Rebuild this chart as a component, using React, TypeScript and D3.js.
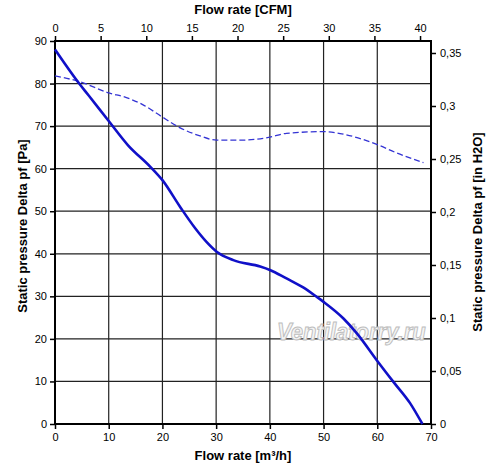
import { useEffect, useRef } from "react"
import * as d3 from "d3"

// flow rate [m³/h] / static pressure [Pa]
const solidFlow = [0, 4.5, 6.2, 10, 13.6, 17.7, 20, 23.3, 26.1, 28.2, 30.1, 33.2, 38.2, 40, 43.1, 46.2, 48.7, 50, 53.7, 56.2, 59.9, 63, 66.1, 68.4]
const solidPressure = [88, 80, 77.3, 71.2, 65.5, 60.5, 57.3, 51, 46, 42.8, 40.5, 38.5, 37, 36.2, 34.2, 32.1, 29.9, 28.7, 24.8, 21.3, 15, 9.9, 4.9, 0]

const dashedFlow = [0, 4.7, 10, 13.3, 16.4, 19.9, 23.3, 27, 30.1, 34.4, 40, 43.1, 50, 53.7, 59.9, 63.6, 68.6]
const dashedPressure = [81.8, 80.4, 77.8, 76.7, 75, 72.2, 69.6, 67.7, 66.7, 66.7, 67.4, 68.3, 68.7, 68.1, 65.7, 63.7, 61.4]

const flowTicks = [0, 10, 20, 30, 40, 50, 60, 70]
const cfmTicks = [0, 5, 10, 15, 20, 25, 30, 35, 40]
const paTicks = [0, 10, 20, 30, 40, 50, 60, 70, 80, 90]
const inH2OTicks = [0, 0.05, 0.1, 0.15, 0.2, 0.25, 0.3, 0.35]

const M3H_PER_CFM = 1.699
const INH2O_PER_PA = 0.0040146

export default function App() {
  const svgRef = useRef<SVGSVGElement>(null)

  useEffect(() => {
    if (!svgRef.current) return
    const svg = d3.select(svgRef.current)
    svg.selectAll("*").remove()

    const left = 55
    const right = 431
    const top = 41
    const bottom = 424
    const font = "'Liberation Sans', Arial, sans-serif"

    const x = d3.scaleLinear().domain([0, 70]).range([left, right])
    const xCfm = d3.scaleLinear().domain([0, 70 / M3H_PER_CFM]).range([left, right])
    const y = d3.scaleLinear().domain([0, 90]).range([bottom, top])
    const yIn = d3.scaleLinear().domain([0, 90 * INH2O_PER_PA]).range([bottom, top])

    svg.append("rect").attr("width", 500).attr("height", 470).attr("fill", "white")

    // grid
    svg.selectAll(".vgrid")
      .data(flowTicks.slice(1, -1))
      .enter()
      .append("line")
      .attr("x1", (d) => x(d))
      .attr("x2", (d) => x(d))
      .attr("y1", top)
      .attr("y2", bottom)
      .attr("stroke", "#222")
      .attr("stroke-width", 1.2)

    svg.selectAll(".hgrid")
      .data(paTicks.slice(1, -1))
      .enter()
      .append("line")
      .attr("x1", left)
      .attr("x2", right)
      .attr("y1", (d) => y(d))
      .attr("y2", (d) => y(d))
      .attr("stroke", "#222")
      .attr("stroke-width", 1.2)

    const styleAxis = (g: d3.Selection<SVGGElement, unknown, null, undefined>) => {
      g.select(".domain").remove()
      g.selectAll("line").attr("stroke", "#000").attr("stroke-width", 1.5)
      g.selectAll("text")
        .style("font-family", font)
        .style("font-size", "11px")
        .style("fill", "#000")
    }

    const fmt = (d: number) => String(+d.toFixed(2)).replace(".", ",")

    svg.append("g")
      .attr("transform", `translate(0,${bottom})`)
      .call(d3.axisBottom(x).tickValues(flowTicks).tickSize(5).tickPadding(4).tickFormat((d) => String(d)))
      .call(styleAxis)

    svg.append("g")
      .attr("transform", `translate(0,${top})`)
      .call(d3.axisTop(xCfm).tickValues(cfmTicks).tickSize(5).tickPadding(4).tickFormat((d) => String(d)))
      .call(styleAxis)

    svg.append("g")
      .attr("transform", `translate(${left},0)`)
      .call(d3.axisLeft(y).tickValues(paTicks).tickSize(5).tickPadding(3).tickFormat((d) => String(d)))
      .call(styleAxis)

    svg.append("g")
      .attr("transform", `translate(${right},0)`)
      .call(d3.axisRight(yIn).tickValues(inH2OTicks).tickSize(5).tickPadding(4).tickFormat((d) => fmt(d as number)))
      .call(styleAxis)

    // plot frame
    svg.append("rect")
      .attr("x", left)
      .attr("y", top)
      .attr("width", right - left)
      .attr("height", bottom - top)
      .attr("fill", "none")
      .attr("stroke", "#000")
      .attr("stroke-width", 2)

    // watermark
    svg.append("text")
      .attr("transform", "translate(277,340) scale(1,1.12)")
      .style("font-family", font)
      .style("font-style", "italic")
      .style("font-weight", "bold")
      .style("font-size", "22px")
      .style("fill", "#f4f4f4")
      .style("stroke", "#bdbdbd")
      .style("stroke-width", 0.9)
      .text("Ventilatorry.ru")

    const dashedData = dashedFlow.map((q, i) => [q, dashedPressure[i]] as [number, number])
    const solidData = solidFlow.map((q, i) => [q, solidPressure[i]] as [number, number])

    const line = d3
      .line<[number, number]>()
      .x((d) => x(d[0]))
      .y((d) => y(d[1]))
      .curve(d3.curveMonotoneX)

    svg.append("path")
      .datum(dashedData)
      .attr("fill", "none")
      .attr("stroke", "#3434d4")
      .attr("stroke-width", 1.3)
      .attr("stroke-dasharray", "6,3")
      .attr("d", line)

    svg.append("path")
      .datum(solidData)
      .attr("fill", "none")
      .attr("stroke", "#1010c8")
      .attr("stroke-width", 2.6)
      .attr("stroke-linejoin", "round")
      .attr("d", line)

    // titles
    const title = (tx: number, ty: number, rot: number, label: string) =>
      svg.append("text")
        .attr("transform", `translate(${tx},${ty}) rotate(${rot})`)
        .attr("text-anchor", "middle")
        .style("font-family", font)
        .style("font-weight", "bold")
        .style("font-size", "13px")
        .style("fill", "#000")
        .text(label)

    title(243, 14, 0, "Flow rate [CFM]")
    title(243, 460, 0, "Flow rate [m³/h]")
    title(27, 226, -90, "Static pressure Delta pf [Pa]")
    title(482, 232, -90, "Static pressure Delta pf [in H2O]")
  }, [])

  return (
    <svg
      ref={svgRef}
      width={500}
      height={470}
      style={{ position: "absolute", left: 0, top: 0 }}
    ></svg>
  )
}
